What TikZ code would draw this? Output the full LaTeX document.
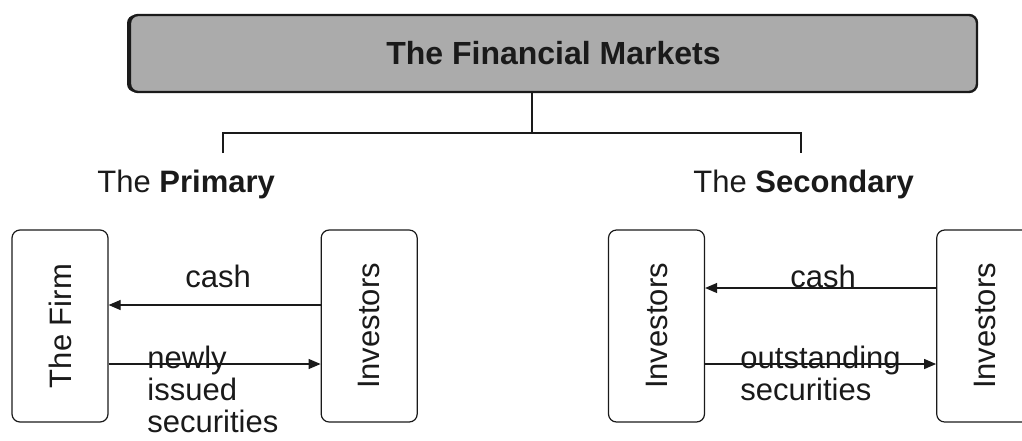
\documentclass[tikz,border=0pt]{standalone}
\usepackage{fontspec}
\setmainfont{Liberation Sans}
\usepackage{graphicx}
\usepackage{tikz}
\usetikzlibrary{arrows.meta, positioning, shadows}
\definecolor{ink}{HTML}{1A1A1A}
\definecolor{bannergrey}{HTML}{ABABAB}
\newcommand{\diafont}{\fontsize{15.5}{16}\selectfont}
\tikzstyle{banner} = [rectangle, rounded corners=4pt, draw=ink, line width=1.2pt, fill=bannergrey, minimum width=423.5pt, minimum height=38.5pt, font=\fontsize{16}{17}\selectfont\bfseries, text=ink, drop shadow={shadow xshift=-1.5pt, shadow yshift=0pt, fill=ink, opacity=1}]
\tikzstyle{party} = [rectangle, rounded corners=4pt, draw=ink, line width=0.6pt, minimum width=48pt, minimum height=96pt, inner sep=0pt, text=ink, font=\diafont]
\tikzstyle{tag} = [inner sep=0pt, anchor=base west, text=ink, align=left, font=\diafont]
\tikzstyle{link} = [line width=0.6pt, color=ink]
\tikzstyle{flow} = [line width=0.6pt, -{Triangle[length=6pt, width=5pt]}, color=ink]

\begin{document}
\begin{tikzpicture}[x=0.5pt, y=-0.5pt]
\useasboundingbox (0,0) rectangle (1022,440);

\node (market) [banner] at (553.5,53.5) {The Financial Markets};
\coordinate (split) at (532,133);
\coordinate (pdrop) at (223,153);
\coordinate (sdrop) at (801,153);

\node (primary) [tag] at (97,192) {The \textbf{Primary}};
\node (secondary) [tag] at (693,192) {The \textbf{Secondary}};

\node (firm) [party] at (60,326) {\rotatebox{90}{The Firm}};
\node (pbuyer) [party, right=106pt of firm] {\rotatebox{90}{Investors}};
\node (sseller) [party] at (656.5,326) {\rotatebox{90}{Investors}};
\node (sbuyer) [party, right=115.5pt of sseller] {\rotatebox{90}{Investors}};

% multi-line tags sit on the baseline of their last line
\node (pcash) [tag] at (185,287) {cash};
\node (pnew) [tag] at (147,432) {newly\\issued\\securities};
\node (scash) [tag] at (790,287) {cash};
\node (sold) [tag] at (740,400) {outstanding\\securities};

\draw[link] (market.south -| split) -- (split);
\draw[link] (pdrop) -- (pdrop |- split) -- (sdrop |- split) -- (sdrop);

\draw[flow] ([yshift=10.5pt]pbuyer.west) -- ([yshift=10.5pt]firm.east);
\draw[flow] ([yshift=-19pt]firm.east) -- ([yshift=-19pt]pbuyer.west);
\draw[flow] ([yshift=19pt]sbuyer.west) -- ([yshift=19pt]sseller.east);
\draw[flow] ([yshift=-19pt]sseller.east) -- ([yshift=-19pt]sbuyer.west);
\end{tikzpicture}
\end{document}
